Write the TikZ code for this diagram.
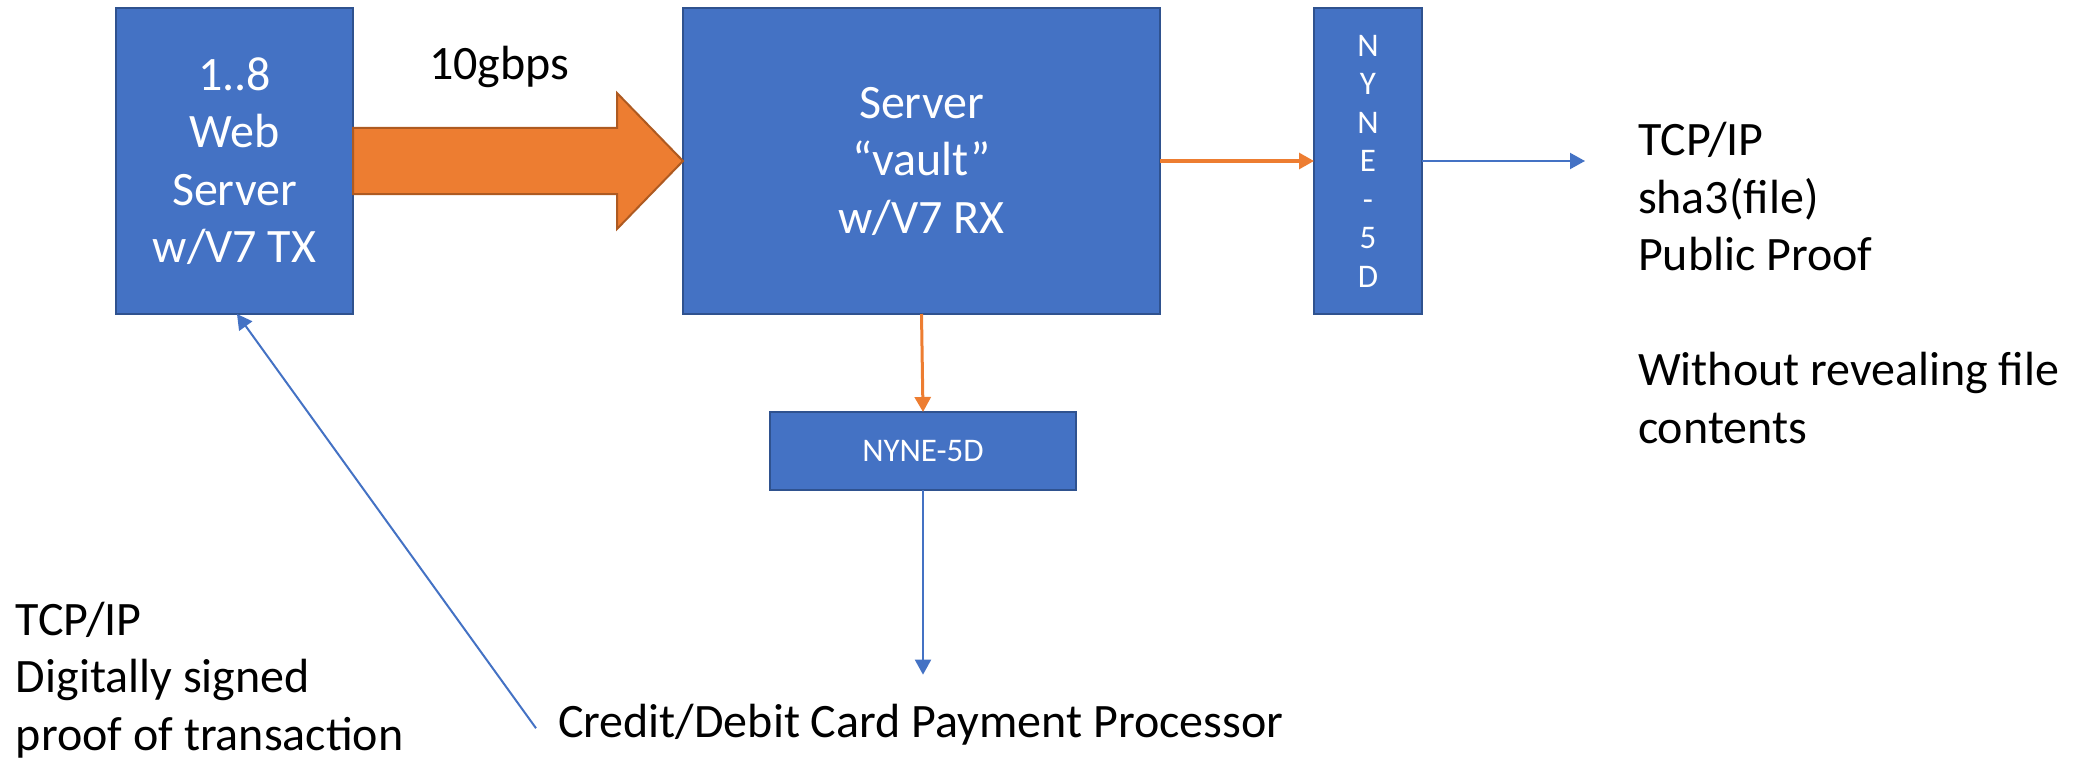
\documentclass[tikz,border=0pt]{standalone}
\usepackage{fontspec}
\setmainfont{Carlito}
\usetikzlibrary{arrows.meta,calc}

\definecolor{boxblue}{HTML}{4472C4}
\definecolor{boxedge}{HTML}{2F528F}
\definecolor{flow}{HTML}{ED7D31}
\definecolor{flowedge}{HTML}{AE5A21}

\tikzset{
  bigfont/.style={font=\fontsize{24pt}{28.75pt}\selectfont},
  smallfont/.style={font=\fontsize{16.5pt}{19.25pt}\selectfont},
  unit/.style={draw=boxedge, fill=boxblue, line width=1pt, text=white,
    inner sep=0pt, outer sep=0pt, align=center},
  label/.style={bigfont, inner sep=0pt, outer sep=0pt, align=left, anchor=base west},
  tip/.style={-{Triangle[length=7.5pt,width=8pt]}},
  orangelink/.style={tip, draw=flow, line width=1.5pt},
  bluelink/.style={tip, draw=boxblue, line width=1pt},
}

\begin{document}
\begin{tikzpicture}[x=0.5pt, y=-0.5pt]
  \useasboundingbox (0,0) rectangle (2088,765);

  % main units
  \node[unit, bigfont, minimum width=118.5pt, minimum height=153pt]
    (web) at (234.5,161) {1..8\\Web\\Server\\w/V7 TX};
  \node[unit, bigfont, minimum width=238.5pt, minimum height=153pt]
    (vault) at (921.5,161) {Server\\“vault”\\w/V7 RX};
  \node[unit, smallfont, minimum width=54pt, minimum height=153pt]
    (nyneout) at (1368,161) {N\\Y\\N\\E\\-\\5\\D};
  \node[unit, smallfont, minimum width=153pt, minimum height=39pt]
    (nynepay) at (923,451) {NYNE-5D};

  % text labels (multi-line labels sit on the baseline of their last line)
  \node[label] (rate) at (429,80) {10gbps};
  \node[label] (proof) at (1638,443)
    {TCP/IP\\sha3(file)\\Public Proof\\[28.75pt]Without revealing file\\contents};
  \node[label] (signed) at (16,750)
    {TCP/IP\\Digitally signed\\proof of transaction};
  \node[label] (card) at (558,737) {Credit/Debit Card Payment Processor};

  % wide transfer arrow between the servers
  \draw[draw=flowedge, fill=flow, line width=1pt, line join=miter]
    ($(web.east)+(0,-33)$) -- (617,128) -- (617,93) -- (vault.west)
    -- (617,229) -- (617,194) -- ($(web.east)+(0,33)$) -- cycle;

  % connectors
  \coordinate (pubend) at (1585,161);
  \draw[orangelink] (vault.east) -- (nyneout.west);
  \draw[bluelink] (nyneout.east) -- (pubend);
  \draw[orangelink] (vault.south) -- (nynepay.north);
  \draw[bluelink, shorten >=14.5pt] (nynepay.south) -- (nynepay.south |- card.north);
  \draw[bluelink] ([xshift=-11pt,yshift=-2pt]card.west) -- ([xshift=1.25pt]web.south);
\end{tikzpicture}
\end{document}
